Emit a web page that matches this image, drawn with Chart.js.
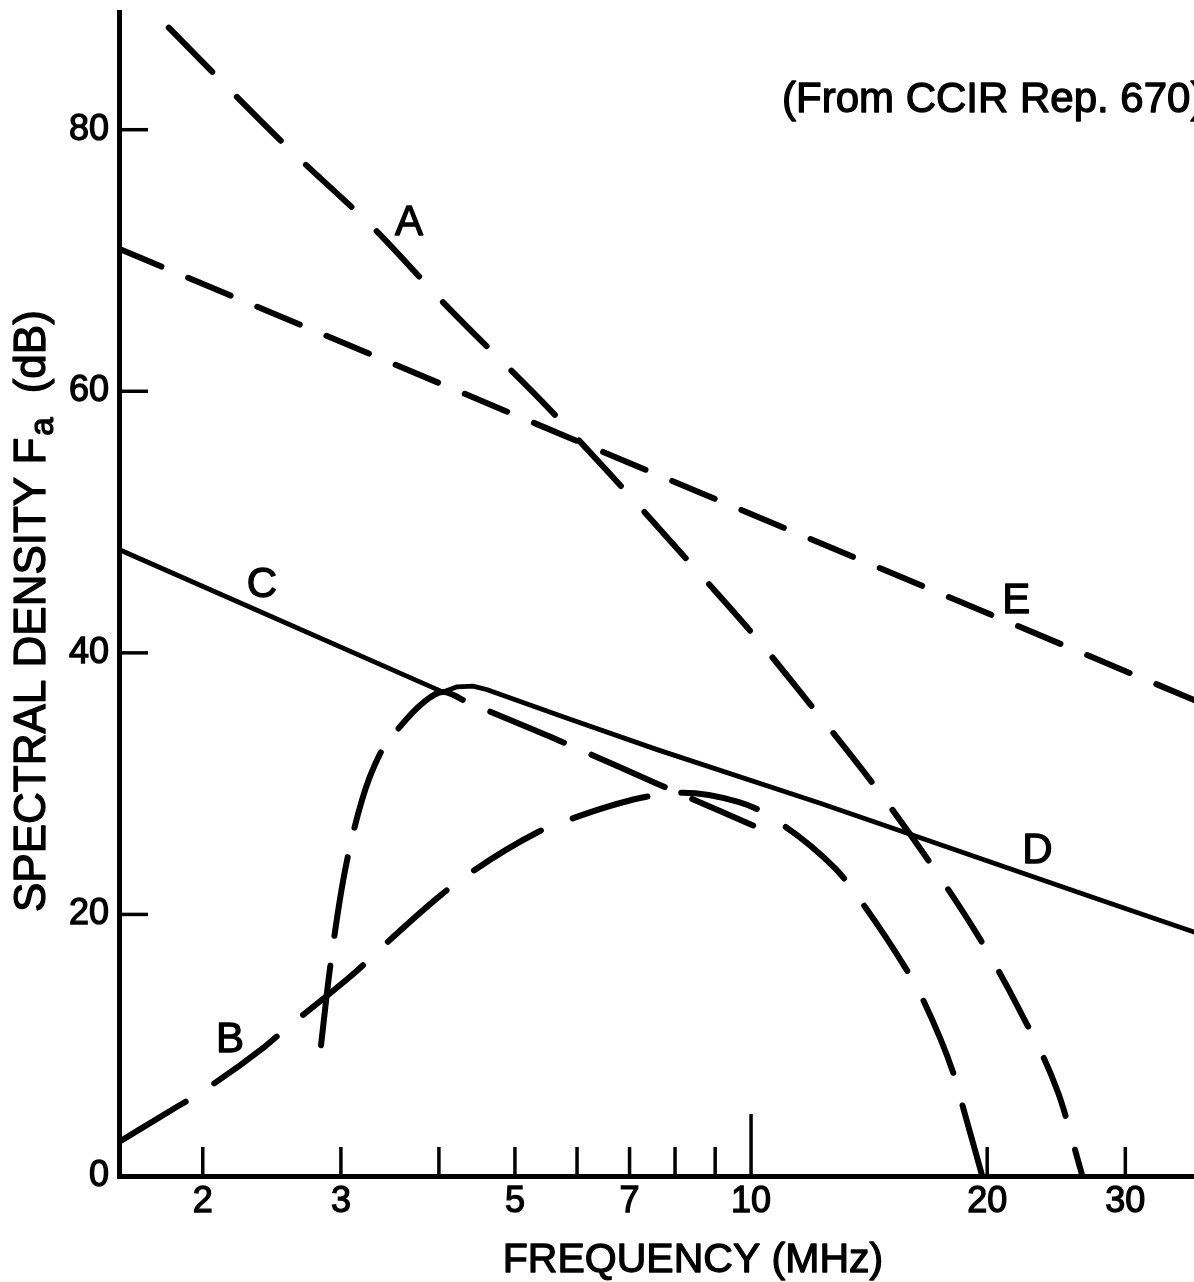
<!DOCTYPE html>
<html>
<head>
<meta charset="utf-8">
<script src="https://cdn.jsdelivr.net/npm/chart.js@4.4.1/dist/chart.umd.min.js"></script>
<style>
html,body{margin:0;padding:0;background:#fff;overflow:hidden}
canvas{display:block}
</style>
</head>
<body>
<canvas id="c" width="1194" height="1282"></canvas>
<script>
// ---- axis ranges / ticks ----
const freqMin = 1.564, freqMax = 36.7;
const dbMin = 0, dbMax = 89;
const xTickLabels = [2, 3, 5, 7, 10, 20, 30];
const xTickMarks = [2, 3, 4, 5, 6, 7, 8, 9, 10, 20, 30];
const xLongTicks = [10];
const yTickLabels = [0, 20, 40, 60, 80];

// ---- curve A (dashed) ----
const freqA = [1.81, 2.56, 3.35, 4.05, 5.54, 6.65, 8.41, 10.2, 11.7, 14.3, 16.8, 19.5, 21.9, 24.65, 26.45];
const dbA   = [87.8, 78.7, 72.1, 66.8, 58.6, 53.5, 46.7, 41.0, 36.6, 30.0, 24.2, 18.3, 12.9, 6.3, 0];

// ---- curve B (dashed) ----
const freqB = [1.564, 1.843, 1.966, 2.40, 2.546, 3.145, 3.385, 3.99, 4.295, 5.35, 5.71, 7.22, 8.19, 9.63, 10.36, 12.81, 13.70, 15.81, 16.53, 18.10, 18.48, 19.71];
const dbB   = [2.6, 5.2, 6.2, 9.9, 11.2, 15.7, 17.5, 21.3, 22.8, 26.3, 27.0, 28.9, 29.3, 28.6, 27.8, 23.5, 21.3, 15.7, 13.6, 7.9, 6.0, 0];

// ---- curves C / D (solid) ----
const freqCD = [1.564, 4.05, 4.22, 4.42, 4.6, 5.83, 7.59, 12.25, 15.82, 27.3, 36.7];
const dbCD   = [47.9, 37.0, 37.4, 37.45, 37.2, 35.0, 32.6, 28.5, 26.2, 21.3, 18.65];

// ---- hump merging into C, with dashed extension of C ----
const freqH = [2.83, 2.9, 3.02, 3.19, 3.36, 3.54, 3.82, 4.05, 4.36, 5.54, 7.59, 10.06];
const dbH   = [10.0, 15.5, 22.6, 28.7, 32.2, 34.1, 36.2, 37.0, 36.2, 33.6, 30.0, 26.8];

// ---- curve E (dashed) ----
const freqE = [1.564, 36.7];
const dbE   = [70.9, 36.4];

// ---- curve letters ----
const labelText = ['A', 'B', 'C', 'D', 'E'];
const labelFreq = [3.664, 2.166, 2.379, 23.17, 21.78];
const labelDb   = [73.0, 10.5, 45.3, 25.0, 44.1];

const noteText = '(From CCIR Rep. 670)';
const xTitle = 'FREQUENCY (MHz)';
const yTitleMain = 'SPECTRAL DENSITY F';
const yTitleSub = 'a';
const yTitleUnit = '(dB)';

const FONT = '"Liberation Sans", Arial, sans-serif';

function pts(fs, ds) { return fs.map((f, i) => ({ x: f, y: ds[i] })); }

const inwardTicks = {
  id: 'inwardTicks',
  afterDatasetsDraw(chart) {
    const { ctx, scales: { x, y } } = chart;
    ctx.save();
    ctx.strokeStyle = '#000';
    ctx.lineWidth = 3.5;
    ctx.lineCap = 'butt';
    xTickMarks.forEach(v => {
      const px = x.getPixelForValue(v);
      const len = xLongTicks.includes(v) ? 62 : 29;
      ctx.beginPath();
      ctx.moveTo(px, y.bottom);
      ctx.lineTo(px, y.bottom - len);
      ctx.stroke();
    });
    yTickLabels.forEach(v => {
      if (v === 0) return;
      const py = y.getPixelForValue(v);
      ctx.beginPath();
      ctx.moveTo(x.left, py);
      ctx.lineTo(x.left + 29, py);
      ctx.stroke();
    });
    ctx.restore();
  }
};

function heavyText(ctx, t, px, py) {
  ctx.fillText(t, px, py);
  ctx.strokeText(t, px, py);
}

const texts = {
  id: 'texts',
  afterDraw(chart) {
    const { ctx, scales: { x, y } } = chart;
    ctx.save();
    ctx.fillStyle = '#000';
    ctx.strokeStyle = '#000';
    ctx.lineWidth = 1.3;
    ctx.lineJoin = 'round';
    // curve letters
    ctx.font = '42px ' + FONT;
    ctx.textAlign = 'center';
    ctx.textBaseline = 'middle';
    labelText.forEach((t, i) => {
      heavyText(ctx, t, x.getPixelForValue(labelFreq[i]), y.getPixelForValue(labelDb[i]) + 2);
    });
    // note
    ctx.textAlign = 'left';
    ctx.textBaseline = 'alphabetic';
    ctx.font = '42px ' + FONT;
    heavyText(ctx, noteText, 782, 112);
    // x title
    ctx.textAlign = 'center';
    ctx.font = '41px ' + FONT;
    heavyText(ctx, xTitle, 693, 1272);
    // y title (rotated)
    ctx.translate(45, 912);
    ctx.rotate(-Math.PI / 2);
    ctx.textAlign = 'left';
    ctx.font = '44px ' + FONT;
    let w = ctx.measureText(yTitleMain).width;
    heavyText(ctx, yTitleMain, 0, 0);
    ctx.font = '33px ' + FONT;
    heavyText(ctx, yTitleSub, w + 2, 8);
    w += 2 + ctx.measureText(yTitleSub).width + 24;
    ctx.font = '44px ' + FONT;
    heavyText(ctx, yTitleUnit, w, 0);
    ctx.restore();
  }
};

const zeroPad = s => { s.paddingLeft = 0; s.paddingRight = 0; s.paddingTop = 0; s.paddingBottom = 0; };

new Chart(document.getElementById('c').getContext('2d'), {
  type: 'line',
  data: {
    datasets: [
      { data: pts(freqE, dbE), borderColor: '#000', borderWidth: 6, borderDash: [46, 29], borderCapStyle: 'round', tension: 0 },
      { data: pts(freqA, dbA), borderColor: '#000', borderWidth: 6, borderDash: [62, 35], borderCapStyle: 'round', cubicInterpolationMode: 'monotone' },
      { data: pts(freqB, dbB), borderColor: '#000', borderWidth: 6, borderDash: [78, 34], borderCapStyle: 'round', cubicInterpolationMode: 'monotone' },
      { data: pts(freqH, dbH), borderColor: '#000', borderWidth: 6, borderDash: [80, 30], borderCapStyle: 'round', cubicInterpolationMode: 'monotone' },
      { data: pts(freqCD, dbCD), borderColor: '#000', borderWidth: 4.8, borderCapStyle: 'round', borderJoinStyle: 'round', tension: 0 }
    ]
  },
  options: {
    responsive: false,
    animation: false,
    devicePixelRatio: 1,
    layout: { padding: { top: 12, left: 0, right: 0, bottom: 0 } },
    plugins: { legend: { display: false }, tooltip: { enabled: false } },
    elements: { point: { radius: 0 } },
    scales: {
      x: {
        type: 'logarithmic',
        min: freqMin, max: freqMax,
        afterBuildTicks: s => { s.ticks = xTickLabels.map(v => ({ value: v })); },
        afterFit: s => { s.height = 106; zeroPad(s); },
        ticks: { autoSkip: false, maxRotation: 0, minRotation: 0, padding: 4, color: '#000',
                 textStrokeColor: '#000', textStrokeWidth: 1.3,
                 font: { family: FONT, size: 36 }, callback: v => String(v) },
        grid: { display: false, drawTicks: false },
        border: { display: true, color: '#000', width: 5 }
      },
      y: {
        type: 'linear',
        min: dbMin, max: dbMax,
        afterBuildTicks: s => { s.ticks = yTickLabels.map(v => ({ value: v })); },
        afterFit: s => { s.width = 119; zeroPad(s); },
        ticks: { padding: 10, color: '#000', textStrokeColor: '#000', textStrokeWidth: 1.3,
                 font: { family: FONT, size: 36 }, callback: v => String(v) },
        grid: { display: false, drawTicks: false },
        border: { display: true, color: '#000', width: 5 }
      }
    }
  },
  plugins: [inwardTicks, texts]
});
</script>
</body>
</html>
